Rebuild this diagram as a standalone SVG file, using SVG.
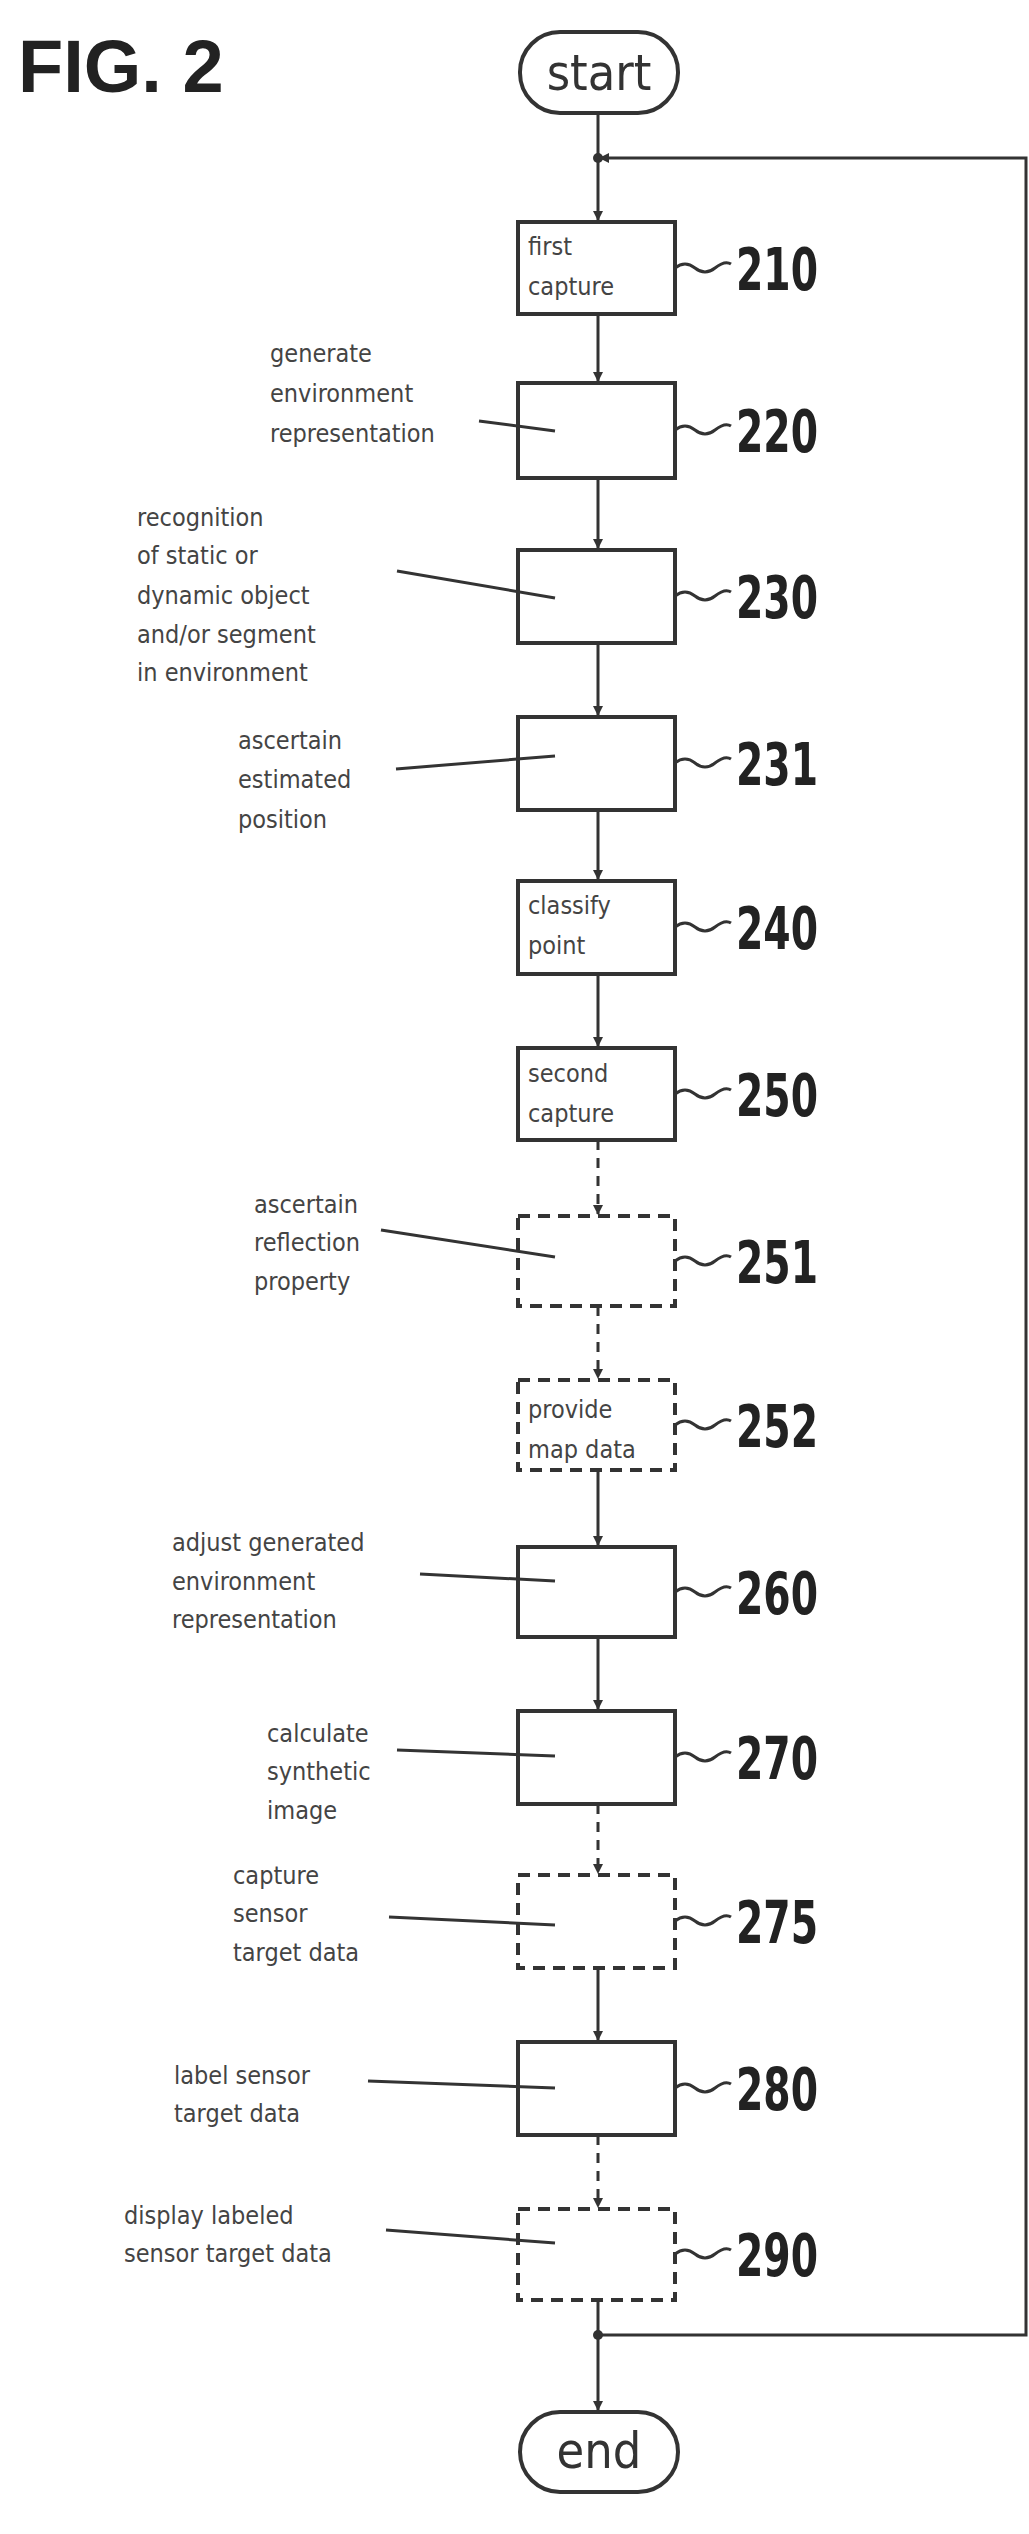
<svg xmlns="http://www.w3.org/2000/svg" width="1029" height="2534" viewBox="0 0 1029 2534">
<style>
.b{fill:#fff;stroke:#333;stroke-width:4}
.d{fill:#fff;stroke:#333;stroke-width:4;stroke-dasharray:12 8}
.l{fill:none;stroke:#333;stroke-width:3}
.ld{fill:none;stroke:#333;stroke-width:3;stroke-dasharray:10 8}
.t{font-family:"DejaVu Sans Condensed","Liberation Sans",sans-serif;font-size:25px;fill:#444}
.n{font-family:"DejaVu Sans Condensed","Liberation Sans",sans-serif;font-size:58px;font-weight:bold;fill:#222}
.o{font-family:"DejaVu Sans Condensed","Liberation Sans",sans-serif;font-size:50px;fill:#333;text-anchor:middle}
</style>
<defs><marker id="a" markerWidth="10" markerHeight="10" refX="9" refY="5" orient="auto" markerUnits="userSpaceOnUse" viewBox="0 0 10 10"><path d="M0,0L10,5L0,10z" fill="#333"/></marker></defs>
<text x="18" y="92" font-family="Liberation Sans,sans-serif" font-size="74" font-weight="bold" fill="#222">FIG. 2</text>
<g id="connectors">
<line class="l" x1="598" y1="113" x2="598" y2="220" marker-end="url(#a)"/>
<circle cx="598" cy="158" r="5" fill="#333"/>
<polyline class="l" points="598,2335 1026,2335 1026,158 600,158" marker-end="url(#a)"/>
<circle cx="598" cy="2335" r="5" fill="#333"/>
<line class="l" x1="598" y1="314" x2="598" y2="381" marker-end="url(#a)"/>
<line class="l" x1="598" y1="478" x2="598" y2="548" marker-end="url(#a)"/>
<line class="l" x1="598" y1="643" x2="598" y2="715" marker-end="url(#a)"/>
<line class="l" x1="598" y1="810" x2="598" y2="879" marker-end="url(#a)"/>
<line class="l" x1="598" y1="974" x2="598" y2="1046" marker-end="url(#a)"/>
<line class="ld" x1="598" y1="1140" x2="598" y2="1214" marker-end="url(#a)"/>
<line class="ld" x1="598" y1="1306" x2="598" y2="1378" marker-end="url(#a)"/>
<line class="l" x1="598" y1="1470" x2="598" y2="1545" marker-end="url(#a)"/>
<line class="l" x1="598" y1="1637" x2="598" y2="1709" marker-end="url(#a)"/>
<line class="ld" x1="598" y1="1804" x2="598" y2="1873" marker-end="url(#a)"/>
<line class="l" x1="598" y1="1968" x2="598" y2="2040" marker-end="url(#a)"/>
<line class="ld" x1="598" y1="2135" x2="598" y2="2207" marker-end="url(#a)"/>
<line class="l" x1="598" y1="2300" x2="598" y2="2410" marker-end="url(#a)"/>
</g>
<g id="start"><rect class="b" x="520" y="32" width="158" height="81" rx="40"/><text class="o" x="599" y="90">start</text></g>
<g id="end"><rect class="b" x="520" y="2412" width="158" height="80" rx="40"/><text class="o" x="599" y="2468">end</text></g>
<g id="n210"><rect class="b" x="518" y="222" width="157" height="92"/><text class="t" x="528" y="255">first</text><text class="t" x="528" y="295">capture</text><path class="l" d="M675,268q10,-8 20,0t20,0t16,-4"/><text class="n" x="736" y="290" textLength="82" lengthAdjust="spacingAndGlyphs">210</text></g>
<g id="n220"><rect class="b" x="518" y="383" width="157" height="95"/><text class="t" x="270" y="362">generate</text><text class="t" x="270" y="402">environment</text><text class="t" x="270" y="442">representation</text><line class="l" x1="479" y1="421" x2="555" y2="431"/><path class="l" d="M675,430q10,-8 20,0t20,0t16,-4"/><text class="n" x="736" y="452" textLength="82" lengthAdjust="spacingAndGlyphs">220</text></g>
<g id="n230"><rect class="b" x="518" y="550" width="157" height="93"/><text class="t" x="137" y="526">recognition</text><text class="t" x="137" y="564">of static or</text><text class="t" x="137" y="604">dynamic object</text><text class="t" x="137" y="643">and/or segment</text><text class="t" x="137" y="681">in environment</text><line class="l" x1="397" y1="571" x2="555" y2="598"/><path class="l" d="M675,596q10,-8 20,0t20,0t16,-4"/><text class="n" x="736" y="618" textLength="82" lengthAdjust="spacingAndGlyphs">230</text></g>
<g id="n231"><rect class="b" x="518" y="717" width="157" height="93"/><text class="t" x="238" y="749">ascertain</text><text class="t" x="238" y="788">estimated</text><text class="t" x="238" y="828">position</text><line class="l" x1="396" y1="769" x2="555" y2="756"/><path class="l" d="M675,763q10,-8 20,0t20,0t16,-4"/><text class="n" x="736" y="785" textLength="82" lengthAdjust="spacingAndGlyphs">231</text></g>
<g id="n240"><rect class="b" x="518" y="881" width="157" height="93"/><text class="t" x="528" y="914">classify</text><text class="t" x="528" y="954">point</text><path class="l" d="M675,927q10,-8 20,0t20,0t16,-4"/><text class="n" x="736" y="949" textLength="82" lengthAdjust="spacingAndGlyphs">240</text></g>
<g id="n250"><rect class="b" x="518" y="1048" width="157" height="92"/><text class="t" x="528" y="1082">second</text><text class="t" x="528" y="1122">capture</text><path class="l" d="M675,1094q10,-8 20,0t20,0t16,-4"/><text class="n" x="736" y="1116" textLength="82" lengthAdjust="spacingAndGlyphs">250</text></g>
<g id="n251"><rect class="d" x="518" y="1216" width="157" height="90"/><text class="t" x="254" y="1213">ascertain</text><text class="t" x="254" y="1251">reflection</text><text class="t" x="254" y="1290">property</text><line class="l" x1="381" y1="1230" x2="555" y2="1257"/><path class="l" d="M675,1261q10,-8 20,0t20,0t16,-4"/><text class="n" x="736" y="1283" textLength="82" lengthAdjust="spacingAndGlyphs">251</text></g>
<g id="n252"><rect class="d" x="518" y="1380" width="157" height="90"/><text class="t" x="528" y="1418">provide</text><text class="t" x="528" y="1458">map data</text><path class="l" d="M675,1425q10,-8 20,0t20,0t16,-4"/><text class="n" x="736" y="1447" textLength="82" lengthAdjust="spacingAndGlyphs">252</text></g>
<g id="n260"><rect class="b" x="518" y="1547" width="157" height="90"/><text class="t" x="172" y="1551">adjust generated</text><text class="t" x="172" y="1590">environment</text><text class="t" x="172" y="1628">representation</text><line class="l" x1="420" y1="1574" x2="555" y2="1581"/><path class="l" d="M675,1592q10,-8 20,0t20,0t16,-4"/><text class="n" x="736" y="1614" textLength="82" lengthAdjust="spacingAndGlyphs">260</text></g>
<g id="n270"><rect class="b" x="518" y="1711" width="157" height="93"/><text class="t" x="267" y="1742">calculate</text><text class="t" x="267" y="1780">synthetic</text><text class="t" x="267" y="1819">image</text><line class="l" x1="397" y1="1750" x2="555" y2="1756"/><path class="l" d="M675,1757q10,-8 20,0t20,0t16,-4"/><text class="n" x="736" y="1779" textLength="82" lengthAdjust="spacingAndGlyphs">270</text></g>
<g id="n275"><rect class="d" x="518" y="1875" width="157" height="93"/><text class="t" x="233" y="1884">capture</text><text class="t" x="233" y="1922">sensor</text><text class="t" x="233" y="1961">target data</text><line class="l" x1="389" y1="1917" x2="555" y2="1925"/><path class="l" d="M675,1921q10,-8 20,0t20,0t16,-4"/><text class="n" x="736" y="1943" textLength="82" lengthAdjust="spacingAndGlyphs">275</text></g>
<g id="n280"><rect class="b" x="518" y="2042" width="157" height="93"/><text class="t" x="174" y="2084">label sensor</text><text class="t" x="174" y="2122">target data</text><line class="l" x1="368" y1="2081" x2="555" y2="2088"/><path class="l" d="M675,2088q10,-8 20,0t20,0t16,-4"/><text class="n" x="736" y="2110" textLength="82" lengthAdjust="spacingAndGlyphs">280</text></g>
<g id="n290"><rect class="d" x="518" y="2209" width="157" height="91"/><text class="t" x="124" y="2224">display labeled</text><text class="t" x="124" y="2262">sensor target data</text><line class="l" x1="386" y1="2230" x2="555" y2="2243"/><path class="l" d="M675,2254q10,-8 20,0t20,0t16,-4"/><text class="n" x="736" y="2276" textLength="82" lengthAdjust="spacingAndGlyphs">290</text></g>
</svg>
